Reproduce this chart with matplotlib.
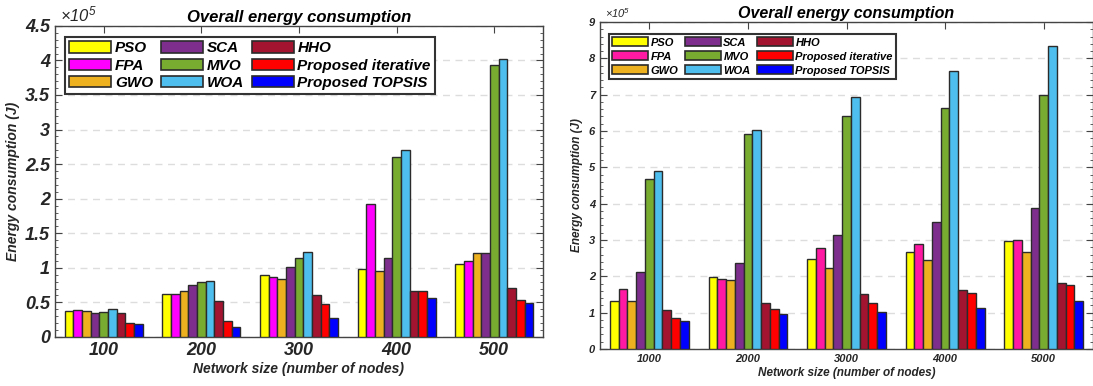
import matplotlib
matplotlib.use("Agg")
import matplotlib.pyplot as plt
import numpy as np
from matplotlib.ticker import AutoMinorLocator, MultipleLocator

plt.rcParams['font.family'] = ['Liberation Sans', 'DejaVu Sans']
plt.rcParams['mathtext.fontset'] = 'custom'
plt.rcParams['mathtext.rm'] = 'Liberation Sans:italic'
plt.rcParams['mathtext.it'] = 'Liberation Sans:italic'

methods = ["PSO", "FPA", "GWO", "SCA", "MVO", "WOA", "HHO",
           "Proposed iterative", "Proposed TOPSIS"]

# left panel: energy (x 1e5 J)
sizes_small = ["100", "200", "300", "400", "500"]
pso_s = [0.37, 0.62, 0.89, 0.99, 1.06]
fpa_s = [0.39, 0.62, 0.87, 1.92, 1.10]
gwo_s = [0.37, 0.67, 0.84, 0.96, 1.21]
sca_s = [0.35, 0.75, 1.01, 1.14, 1.22]
mvo_s = [0.36, 0.79, 1.14, 2.61, 3.93]
woa_s = [0.40, 0.81, 1.23, 2.71, 4.02]
hho_s = [0.34, 0.52, 0.61, 0.66, 0.71]
iter_s = [0.20, 0.23, 0.48, 0.66, 0.54]
topsis_s = [0.19, 0.14, 0.27, 0.57, 0.49]

# right panel: energy (x 1e5 J)
sizes_large = ["1000", "2000", "3000", "4000", "5000"]
pso_l = [1.31, 1.99, 2.49, 2.68, 2.98]
fpa_l = [1.66, 1.94, 2.79, 2.89, 3.00]
gwo_l = [1.33, 1.89, 2.24, 2.45, 2.68]
sca_l = [2.11, 2.37, 3.13, 3.49, 3.89]
mvo_l = [4.67, 5.91, 6.42, 6.64, 7.00]
woa_l = [4.89, 6.02, 6.93, 7.64, 8.35]
hho_l = [1.08, 1.26, 1.51, 1.61, 1.82]
iter_l = [0.86, 1.10, 1.27, 1.53, 1.76]
topsis_l = [0.78, 0.95, 1.02, 1.13, 1.31]

colors_left = ["#FFFF00", "#FF00FF", "#EDB120", "#7E2F8E", "#77AC30",
               "#4DBEEE", "#A2142F", "#FF0000", "#0000FF"]
colors_right = ["#FFFF00", "#FF19A3", "#EDB120", "#7E2F8E", "#77AC30",
                "#4DBEEE", "#A2142F", "#FF0000", "#0000FF"]


def draw(ax, labels, series, colors, ymax, ystep, fs_tick, fs_lab, fs_title,
         fs_leg, leg_kw, exp_fs):
    x = np.arange(1, len(labels) + 1)
    n = len(series)
    w = 0.8 / n
    for j, vals in enumerate(series):
        ax.bar(x + (j - (n - 1) / 2) * w, vals, width=w, color=colors[j],
               edgecolor="#2b2b2b", linewidth=1.0, label=methods[j], zorder=3)
    ax.set_xlim(0.5, len(labels) + 0.5)
    ax.set_ylim(0, ymax)
    ax.set_xticks(x)
    ax.set_xticklabels(labels)
    ax.yaxis.set_major_locator(MultipleLocator(ystep))
    ax.yaxis.set_minor_locator(AutoMinorLocator(5))
    ax.yaxis.set_major_formatter(plt.FuncFormatter(lambda v, p: f"{v:g}"))
    ax.tick_params(axis="both", which="both", direction="in", top=True,
                   right=True, color="#444444")
    ax.tick_params(axis="both", which="major", length=5, labelsize=fs_tick)
    ax.tick_params(axis="y", which="minor", length=2.5)
    for t in ax.get_xticklabels() + ax.get_yticklabels():
        t.set_fontweight("bold")
        t.set_fontstyle("italic")
        t.set_color("#262626")
    ax.grid(axis="y", linestyle=(0, (5, 4)), color="#dddddd", linewidth=1.0,
            zorder=0)
    for s in ax.spines.values():
        s.set_color("#444444")
        s.set_linewidth(1.0)
    ax.set_xlabel("Network size (number of nodes)", fontsize=fs_lab,
                  fontweight="bold", fontstyle="italic", color="#262626",
                  labelpad=2)
    ax.set_ylabel("Energy consumption (J)", fontsize=fs_lab,
                  fontweight="bold", fontstyle="italic", color="#262626")
    ax.set_title("Overall energy consumption", fontsize=fs_title,
                 fontweight="bold", fontstyle="italic", pad=3)
    ax.text(0.01, 1.005, r"$\times$10$^{5}$", transform=ax.transAxes,
            fontsize=exp_fs, fontstyle="italic", ha="left", va="bottom",
            color="#262626")
    leg = ax.legend(ncol=3, loc="upper left", fancybox=False, framealpha=1,
                    edgecolor="#333333", prop=dict(size=fs_leg, weight="bold",
                                                    style="italic"),
                    borderaxespad=0, **leg_kw)
    leg.get_frame().set_linewidth(1.5)
    for p in leg.get_patches():
        p.set_edgecolor("#2b2b2b")
        p.set_linewidth(1.2)


fig = plt.figure(figsize=(10.93, 3.86), dpi=100)
ax1 = fig.add_axes([0.0503, 0.127, 0.4465, 0.806])
ax2 = fig.add_axes([0.549, 0.0959, 0.451, 0.847])

draw(ax1, sizes_small,
     [pso_s, fpa_s, gwo_s, sca_s, mvo_s, woa_s, hho_s, iter_s, topsis_s],
     colors_left, 4.5, 0.5, 13, 10, 12, 11,
     dict(bbox_to_anchor=(0.02, 0.965), handlelength=2.75, handleheight=0.8,
          labelspacing=0.2, columnspacing=0.5, handletextpad=0.25,
          borderpad=0.3), 12)
draw(ax2, sizes_large,
     [pso_l, fpa_l, gwo_l, sca_l, mvo_l, woa_l, hho_l, iter_l, topsis_l],
     colors_right, 9, 1, 8, 8.5, 11.5, 8,
     dict(bbox_to_anchor=(0.018, 0.963), handlelength=3.2, handleheight=0.8,
          labelspacing=0.35, columnspacing=0.6, handletextpad=0.25,
          borderpad=0.3), 8)

fig.savefig("out.png", dpi=100)
